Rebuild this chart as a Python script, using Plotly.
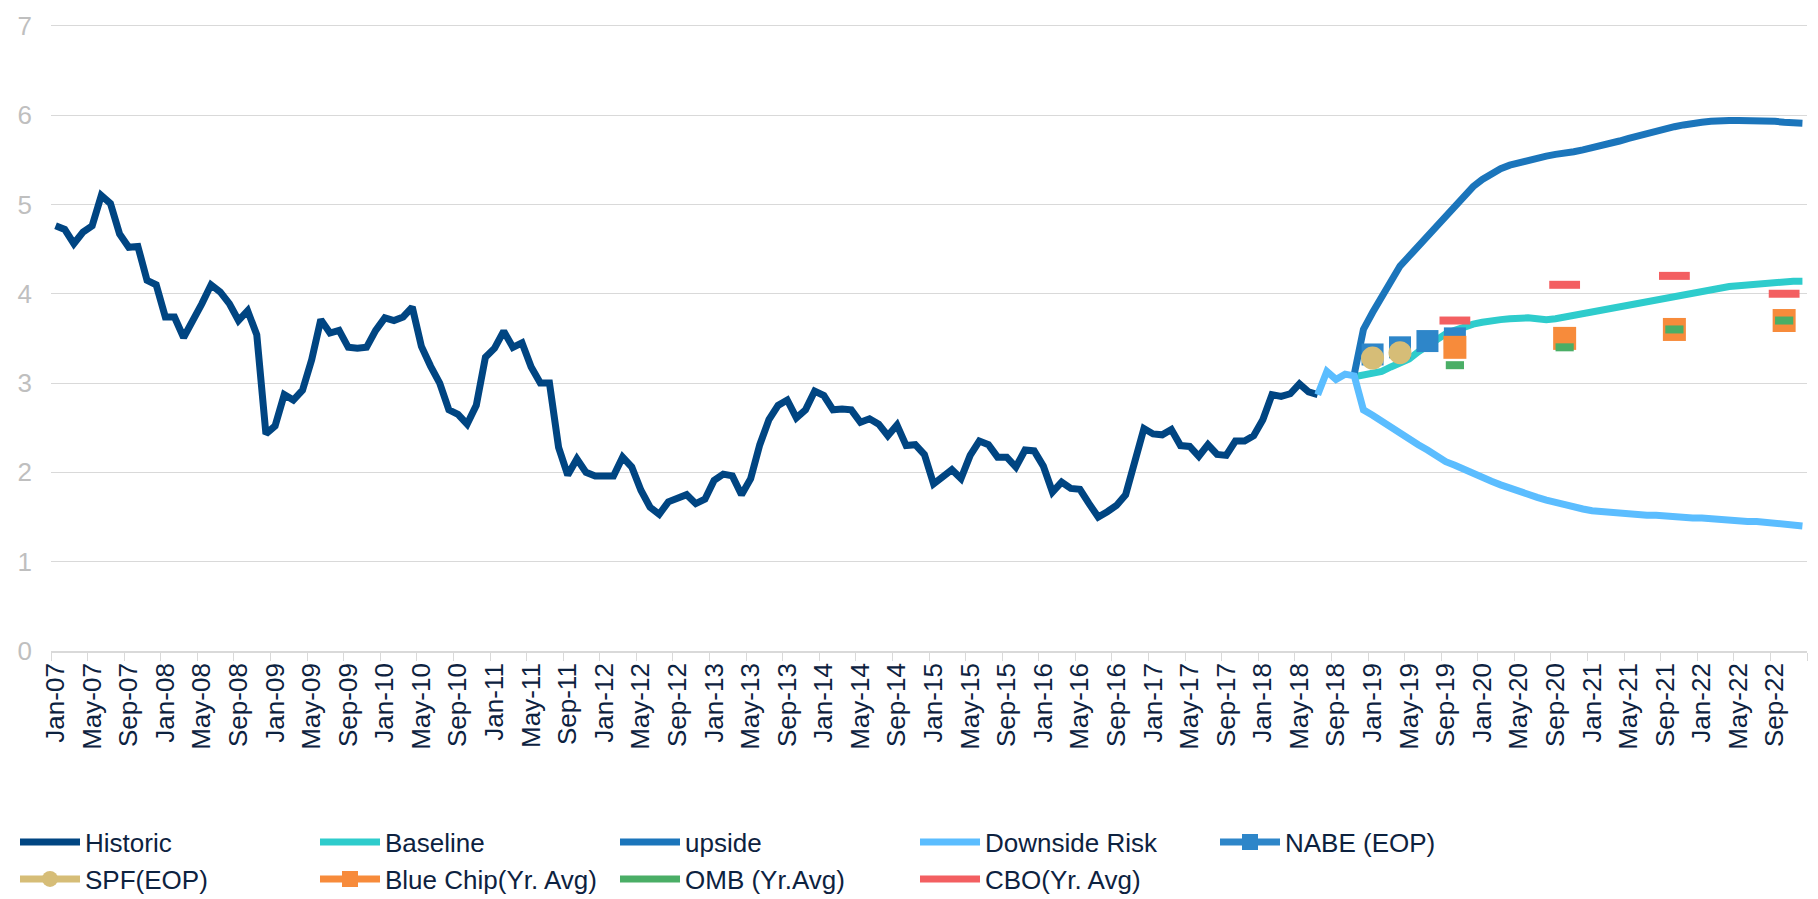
import pandas as pd
import plotly.graph_objects as go

# monthly categories, Jan-07 .. Dec-22
months = pd.date_range("2007-01-01", "2022-12-01", freq="MS").strftime("%b-%y").tolist()

# Historic, Jan-07 .. Jul-18
historic = [
    4.76, 4.72, 4.56, 4.69, 4.76, 5.10, 5.01, 4.67, 4.52, 4.53, 4.15, 4.10,
    3.74, 3.74, 3.51, 3.69, 3.89, 4.10, 4.02, 3.89, 3.70, 3.81, 3.54, 2.43,
    2.52, 2.87, 2.81, 2.92, 3.26, 3.71, 3.56, 3.59, 3.40, 3.39, 3.40, 3.59,
    3.73, 3.70, 3.74, 3.85, 3.41, 3.19, 3.00, 2.70, 2.65, 2.54, 2.75, 3.29,
    3.39, 3.58, 3.40, 3.45, 3.18, 3.00, 3.00, 2.28, 1.97, 2.15, 2.00, 1.96,
    1.96, 1.96, 2.17, 2.06, 1.80, 1.61, 1.53, 1.67, 1.71, 1.75, 1.65, 1.70,
    1.91, 1.98, 1.96, 1.75, 1.93, 2.31, 2.59, 2.75, 2.81, 2.61, 2.70, 2.91,
    2.86, 2.70, 2.71, 2.70, 2.56, 2.60, 2.54, 2.41, 2.53, 2.30, 2.31, 2.20,
    1.87, 1.96, 2.03, 1.93, 2.19, 2.35, 2.31, 2.17, 2.17, 2.06, 2.25, 2.24,
    2.07, 1.78, 1.89, 1.82, 1.81, 1.65, 1.50, 1.56, 1.63, 1.75, 2.11, 2.49,
    2.43, 2.42, 2.48, 2.30, 2.29, 2.18, 2.31, 2.20, 2.19, 2.35, 2.35, 2.41,
    2.59, 2.87, 2.85, 2.88, 2.99, 2.90, 2.87,
]

# scenarios, Nov-18 .. Dec-22
scenario_start = "Nov-18"
baseline = [
    3.07, 3.09, 3.11, 3.13, 3.18, 3.22, 3.27, 3.35, 3.42, 3.49, 3.55, 3.59,
    3.63, 3.66, 3.68, 3.70, 3.71, 3.72, 3.73, 3.73, 3.72, 3.71, 3.72, 3.74,
    3.76, 3.78, 3.80, 3.82, 3.84, 3.86, 3.88, 3.90, 3.92, 3.93, 3.95, 3.96,
    3.98, 4.00, 4.02, 4.04, 4.06, 4.08, 4.09, 4.10, 4.11, 4.12, 4.13, 4.13,
    4.14, 4.14,
]
upside = [
    3.10, 3.60, 3.79, 3.97, 4.14, 4.31, 4.42, 4.53, 4.65, 4.76, 4.88, 4.99,
    5.10, 5.20, 5.28, 5.35, 5.40, 5.44, 5.47, 5.50, 5.52, 5.54, 5.56, 5.57,
    5.59, 5.61, 5.63, 5.66, 5.68, 5.71, 5.74, 5.77, 5.79, 5.82, 5.85, 5.87,
    5.89, 5.91, 5.92, 5.93, 5.94, 5.94, 5.94, 5.94, 5.94, 5.94, 5.93, 5.92,
    5.92, 5.91,
]
# downside, Jul-18 .. Dec-22
downside_start = "Jul-18"
downside = [
    2.87, 3.13, 3.04, 3.10, 3.08, 2.70, 2.64, 2.57, 2.50, 2.43, 2.37, 2.31,
    2.25, 2.18, 2.12, 2.08, 2.03, 1.99, 1.94, 1.90, 1.86, 1.82, 1.79, 1.75,
    1.72, 1.69, 1.66, 1.64, 1.62, 1.59, 1.57, 1.56, 1.55, 1.54, 1.53, 1.53,
    1.52, 1.52, 1.51, 1.51, 1.50, 1.49, 1.49, 1.48, 1.48, 1.47, 1.46, 1.45,
    1.45, 1.44, 1.43, 1.42, 1.41, 1.40,
]

# survey forecasts
eop_months = ["Jan-19", "Apr-19", "Jul-19", "Oct-19"]
nabe = [3.32, 3.40, 3.47, 3.50]
spf = [3.28, 3.34]
yr_avg_months = ["Oct-19", "Oct-20", "Oct-21", "Oct-22"]
blue_chip = [3.40, 3.50, 3.60, 3.70]
omb = [3.20, 3.40, 3.60, 3.70]
cbo = [3.70, 4.10, 4.20, 4.00]

FONT = "Liberation Sans, Arial, sans-serif"
TEXT = "#0d2240"
LW = 7


def run(start, values):
    i = months.index(start)
    return months[i:i + len(values)]


def sparse(when, values):
    # put points on the full month axis with gaps so no line joins them
    y = [None] * len(months)
    for m, v in zip(when, values):
        y[months.index(m)] = v
    return y


fig = go.Figure()

fig.add_trace(go.Scatter(x=months[:len(historic)], y=historic, name="Historic",
                         mode="lines", line=dict(color="#004582", width=LW)))
fig.add_trace(go.Scatter(x=run(scenario_start, baseline), y=baseline, name="Baseline",
                         mode="lines", line=dict(color="#2ecccc", width=LW)))
fig.add_trace(go.Scatter(x=run(scenario_start, upside), y=upside, name="upside",
                         mode="lines", line=dict(color="#1b75bb", width=LW)))
fig.add_trace(go.Scatter(x=run(downside_start, downside), y=downside, name="Downside Risk",
                         mode="lines", line=dict(color="#5bbdff", width=LW)))

fig.add_trace(go.Scatter(x=months, y=sparse(eop_months, nabe), name="NABE (EOP)",
                         mode="lines+markers", line=dict(color="#2e86c9", width=LW),
                         marker=dict(symbol="square", size=22, color="#2e86c9"),
                         connectgaps=False))
fig.add_trace(go.Scatter(x=months, y=sparse(eop_months, spf), name="SPF(EOP)",
                         mode="lines+markers", line=dict(color="#d6bd77", width=LW),
                         marker=dict(symbol="circle", size=23, color="#d6bd77"),
                         connectgaps=False, legend="legend2"))
fig.add_trace(go.Scatter(x=months, y=sparse(yr_avg_months, blue_chip), name="Blue Chip(Yr. Avg)",
                         mode="lines+markers", line=dict(color="#f78b3b", width=LW),
                         marker=dict(symbol="square", size=23, color="#f78b3b"),
                         connectgaps=False, legend="legend2"))
fig.add_trace(go.Scatter(x=months, y=sparse(yr_avg_months, omb), name="OMB (Yr.Avg)",
                         mode="lines+markers", line=dict(color="#4aae66", width=LW),
                         marker=dict(symbol="line-ew", size=13,
                                     line=dict(color="#4aae66", width=8)),
                         connectgaps=False, legend="legend2"))
fig.add_trace(go.Scatter(x=months, y=sparse(yr_avg_months, cbo), name="CBO(Yr. Avg)",
                         mode="lines+markers", line=dict(color="#f35f61", width=LW),
                         marker=dict(symbol="line-ew", size=22,
                                     line=dict(color="#f35f61", width=8)),
                         connectgaps=False, legend="legend2"))

legend_style = dict(orientation="h", xref="container", yref="container",
                    xanchor="left", yanchor="middle", x=15 / 1818,
                    entrywidth=225, entrywidthmode="pixels", itemwidth=60,
                    font=dict(family=FONT, size=26, color=TEXT),
                    bgcolor="rgba(0,0,0,0)", traceorder="normal")

fig.update_layout(
    width=1818, height=899,
    margin=dict(l=51, r=11, t=18, b=248),
    paper_bgcolor="white", plot_bgcolor="white",
    font=dict(family=FONT, color=TEXT),
    legend=dict(legend_style, y=1 - 842 / 899),
    legend2=dict(legend_style, y=1 - 879 / 899),
    xaxis=dict(type="category", categoryorder="array", categoryarray=months,
               range=[-0.5, len(months) - 0.5], tickmode="linear", tick0=0, dtick=4,
               tickson="boundaries", ticks="outside", ticklen=8, tickcolor="#d9d9d9",
               tickangle=-90, tickfont=dict(family=FONT, size=26, color=TEXT),
               showgrid=False, showline=True, linecolor="#d9d9d9", linewidth=1.5),
    yaxis=dict(range=[0, 7.02], dtick=1, showgrid=True, gridcolor="#d9d9d9", gridwidth=1.2,
               zeroline=False, ticks="", ticklabelstandoff=18,
               tickfont=dict(family=FONT, size=26, color="#bfbfbf")),
)

fig.write_html("out.html", config={"displayModeBar": False},
               post_script="document.body.style.margin='0';")
